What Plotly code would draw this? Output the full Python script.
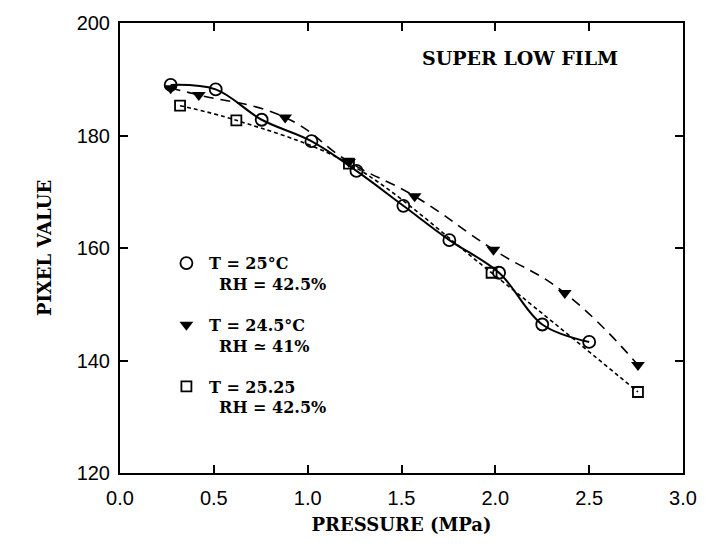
import plotly.graph_objects as go

# T = 25 C, RH = 42.5 %
circ_p = [0.27, 0.51, 0.755, 1.02, 1.26, 1.51, 1.755, 2.02, 2.25, 2.50]
circ_v = [189.0, 188.2, 182.8, 179.0, 173.7, 167.5, 161.4, 155.6, 146.4, 143.3]
# T = 24.5 C, RH = 41 %
tri_p = [0.27, 0.42, 0.88, 1.22, 1.57, 1.99, 2.37, 2.76]
tri_v = [188.4, 187.2, 183.2, 175.3, 169.2, 159.7, 152.0, 139.2]
# T = 25.25, RH = 42.5 %
sq_p = [0.32, 0.62, 1.22, 1.98, 2.76]
sq_v = [185.3, 182.7, 175.0, 155.6, 134.4]

x_ticks = [0.0, 0.5, 1.0, 1.5, 2.0, 2.5, 3.0]
y_ticks = [120, 140, 160, 180, 200]

TXT = "DejaVu Serif"
NUM = "Liberation Sans"
NB = "\u00a0"

fig = go.Figure()

# curves
fig.add_trace(go.Scatter(x=circ_p, y=circ_v, mode="lines", showlegend=False,
                         line=dict(color="black", width=2, shape="spline", smoothing=1.0)))
fig.add_trace(go.Scatter(x=tri_p, y=tri_v, mode="lines", showlegend=False,
                         line=dict(color="black", width=1.6, dash="10px,7px", shape="spline", smoothing=1.3)))
fig.add_trace(go.Scatter(x=sq_p, y=sq_v, mode="lines", showlegend=False,
                         line=dict(color="black", width=1.6, dash="4px,3px", shape="spline", smoothing=1.0)))

# markers
fig.add_trace(go.Scatter(x=circ_p, y=circ_v, mode="markers", legendgroup="a",
                         name="<b>T = 25°C</b><br>" + NB * 2 + "<b>RH = 42.5%</b>",
                         marker=dict(symbol="circle-open", size=12, color="black", line=dict(width=1.8))))
fig.add_trace(go.Scatter(x=tri_p, y=tri_v, mode="markers", legendgroup="b",
                         name="<b>T = 24.5°C</b><br>" + NB * 2 + "<b>RH ≃ 41%</b>",
                         marker=dict(symbol="triangle-down", size=12, color="black", line=dict(width=0))))
fig.add_trace(go.Scatter(x=sq_p, y=sq_v, mode="markers", legendgroup="c",
                         name="<b>T = 25.25</b><br>" + NB * 2 + "<b>RH = 42.5%</b>",
                         marker=dict(symbol="square-open", size=10, color="black", line=dict(width=1.8))))

axis_common = dict(showgrid=False, zeroline=False, showline=True, linecolor="black", linewidth=2,
                   mirror="ticks", ticks="inside", ticklen=8, tickwidth=1.5, tickcolor="black",
                   tickfont=dict(family=NUM, size=20, color="black"))

fig.update_xaxes(range=[0, 3], tickvals=x_ticks, ticktext=[f"{v:.1f}" for v in x_ticks],
                 ticklabelstandoff=6,
                 title=dict(text="<b>PRESSURE (MPa)</b>", font=dict(family=TXT, size=18, color="black"), standoff=10),
                 **axis_common)
fig.update_yaxes(range=[120, 200], tickvals=y_ticks, ticktext=[str(v) for v in y_ticks],
                 ticklabelstandoff=4,
                 title=dict(text="<b>PIXEL VALUE</b>", font=dict(family=TXT, size=18, color="black"), standoff=20),
                 **axis_common)

fig.add_annotation(x=0.888, y=0.923, xref="paper", yref="paper", xanchor="right", yanchor="middle",
                   text="<b>SUPER LOW FILM</b>", showarrow=False,
                   font=dict(family=TXT, size=19, color="black"))

fig.update_layout(
    width=711, height=544,
    margin=dict(l=120, r=28, t=19, b=68),
    paper_bgcolor="white", plot_bgcolor="white",
    legend=dict(x=0.078, y=0.504, xanchor="left", yanchor="top", bgcolor="rgba(0,0,0,0)",
                font=dict(family=TXT, size=16, color="black"), tracegroupgap=17,
                itemwidth=35, valign="top"),
)

fig.write_html("out.html")
